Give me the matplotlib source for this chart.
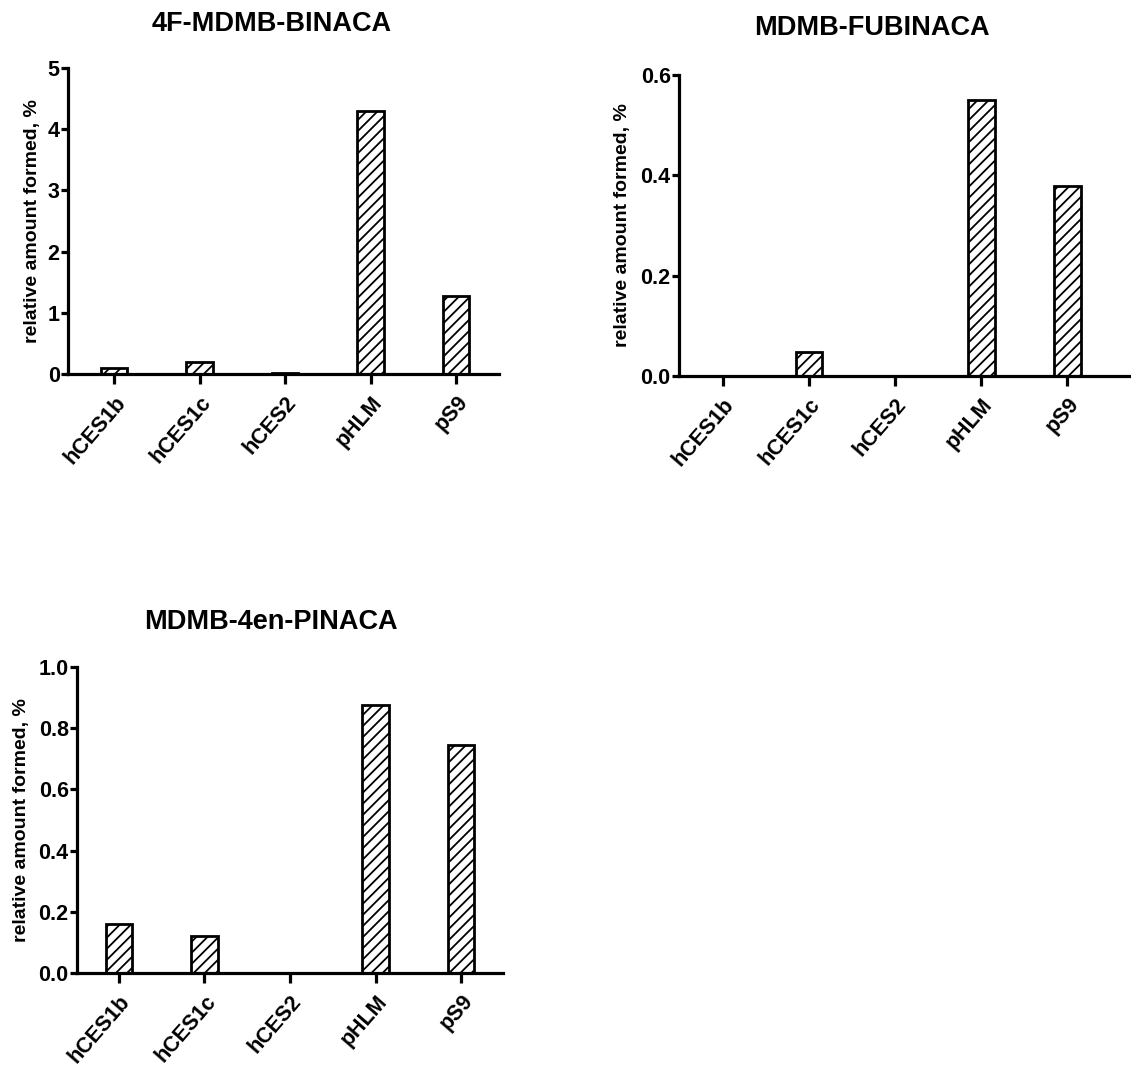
import matplotlib
matplotlib.use("Agg")
import matplotlib.pyplot as plt
import numpy as np

plt.rcParams['font.family'] = ['Liberation Sans', 'DejaVu Sans']
plt.rcParams['font.weight'] = 'bold'
plt.rcParams['hatch.linewidth'] = 1.3

categories = ["hCES1b", "hCES1c", "hCES2", "pHLM", "pS9"]
titles = ["4F-MDMB-BINACA", "MDMB-FUBINACA", "MDMB-4en-PINACA"]
values_4f_mdmb_binaca = [0.10, 0.20, 0.02, 4.30, 1.28]
values_mdmb_fubinaca = [0.0, 0.048, 0.0, 0.551, 0.379]
values_mdmb_4en_pinaca = [0.16, 0.12, 0.0, 0.875, 0.745]
yticks_1 = [0, 1, 2, 3, 4, 5]
yticks_2 = [0.0, 0.2, 0.4, 0.6]
yticks_3 = [0.0, 0.2, 0.4, 0.6, 0.8, 1.0]
ylabel = "relative amount formed, %"

W, H = 1131, 1068
fig = plt.figure(figsize=(W / 100, H / 100), dpi=100)

def px_axes(left, right, top, bottom):
    return fig.add_axes([left / W, 1 - bottom / H, (right - left) / W, (bottom - top) / H])

panels = [
    dict(box=(68, 499, 68, 374), vals=values_4f_mdmb_binaca, yt=yticks_1, fmt="{:.0f}",
         xlim=(-0.54, 4.50), ylim=(0, 5), title=titles[0], tpos=(272, 24), lab=-0.063),
    dict(box=(679, 1131, 75, 376), vals=values_mdmb_fubinaca, yt=yticks_2, fmt="{:.1f}",
         xlim=(-0.51, 4.74), ylim=(0, 0.6), title=titles[1], tpos=(872, 28), lab=-0.106),
    dict(box=(77, 503, 667, 973), vals=values_mdmb_4en_pinaca, yt=yticks_3, fmt="{:.1f}",
         xlim=(-0.49, 4.49), ylim=(0, 1.0), title=titles[2], tpos=(271, 622), lab=-0.110),
]

x = np.arange(len(categories))
for p in panels:
    ax = px_axes(*p["box"])
    ax.bar(x, p["vals"], width=0.31, color="white", edgecolor="black",
           linewidth=2.0, hatch="///", zorder=2)
    ax.set_xlim(*p["xlim"])
    ax.set_ylim(*p["ylim"])
    ax.set_yticks(p["yt"])
    ax.set_yticklabels([p["fmt"].format(v) for v in p["yt"]], fontsize=15.5, fontweight="bold")
    ax.set_xticks(x)
    ax.set_xticklabels(categories, rotation=49, ha="right", rotation_mode="anchor",
                       fontsize=15.5, fontweight="bold")
    for s in ["top", "right"]:
        ax.spines[s].set_visible(False)
    for s in ["left", "bottom"]:
        ax.spines[s].set_linewidth(2.3)
        ax.spines[s].set_zorder(3)
    ax.tick_params(axis="y", which="major", length=5, width=2.3, direction="out", pad=1)
    ax.tick_params(axis="x", which="major", length=7, width=2.3, direction="out", pad=6)
    ax.set_ylabel(ylabel, fontsize=14, fontweight="bold")
    ax.yaxis.set_label_coords(p["lab"], 0.5)
    fig.text(p["tpos"][0] / W, 1 - p["tpos"][1] / H, p["title"], ha="center", va="center",
             fontsize=19.5, fontweight="bold")

fig.savefig("out.png", dpi=100, facecolor="white")
